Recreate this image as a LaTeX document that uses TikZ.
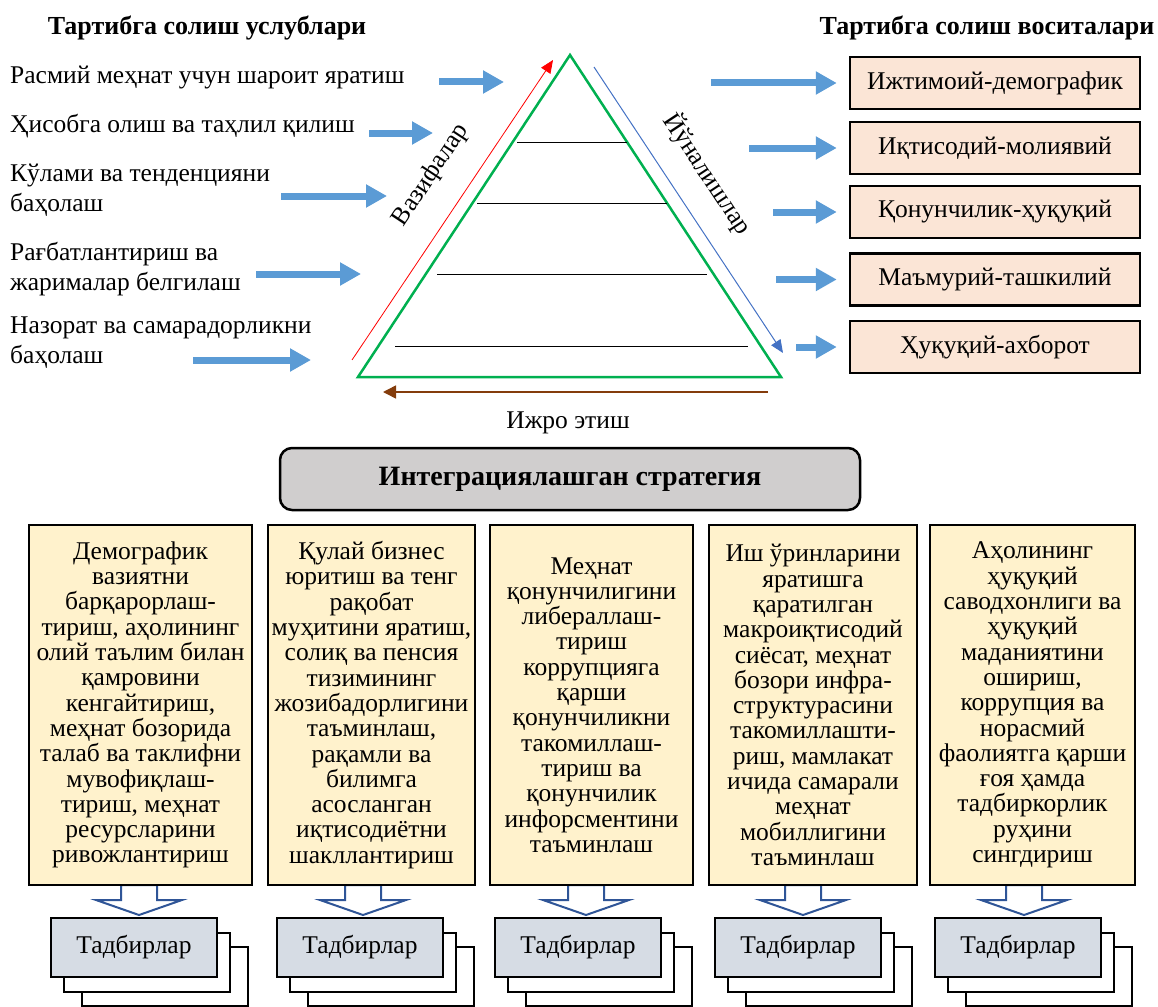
\documentclass[tikz,border=0pt]{standalone}
\usepackage{fontspec}
\setmainfont{Liberation Serif}
\usetikzlibrary{calc,arrows.meta,positioning}

\definecolor{arrblue}{HTML}{5B9BD5}
\definecolor{pyrgreen}{HTML}{00B050}
\definecolor{peach}{HTML}{FBE5D6}
\definecolor{cream}{HTML}{FFF2CC}
\definecolor{stratgray}{HTML}{D0CECE}
\definecolor{tadfill}{HTML}{D6DCE4}
\definecolor{navy}{HTML}{2F5597}
\definecolor{brownarr}{HTML}{843C0C}
\definecolor{lineblue}{HTML}{4472C4}

\begin{document}
\begin{tikzpicture}[x=1pt,y=-1pt,>=Latex,
    every node/.style={font=\fontsize{25.5}{30}\selectfont},
    heading/.style={font=\fontsize{26}{30}\selectfont\bfseries},
    method/.style={anchor=west,align=left,inner sep=0pt},
    bluearrow/.style={arrblue,line width=7pt,-{Triangle[length=21pt,width=22pt]}},
    toolbox/.style={draw,line width=2.5pt,fill=peach,minimum width=290pt,minimum height=52pt},
    stratbox/.style={draw,line width=2.5pt,fill=cream,minimum height=360pt,align=center,inner sep=2pt,
        font=\fontsize{25.5}{25.3}\selectfont},
    eventbox/.style={draw,line width=2pt,fill=tadfill,minimum width=166pt,minimum height=59pt},
    backbox/.style={draw,line width=2pt,fill=white,minimum width=166pt,minimum height=59pt},
    hollow/.style={draw=navy,line width=2pt,fill=white,line join=miter}]

    \useasboundingbox (0,0) rectangle (1158,1006);

    % titles
    \node[heading] (ttl) at (207,28) {Тартибга солиш услублари};
    \node[heading] (ttr) at (987,28) {Тартибга солиш воситалари};

    % pyramid
    \coordinate (apex) at (570,55);
    \coordinate (bl) at (358,377);
    \coordinate (br) at (781,377);
    \draw[pyrgreen,line width=2.5pt,line join=miter] (bl) -- (apex) -- (br) -- cycle;
    \foreach \y/\a/\b in {142/517/627, 203/477/667, 274/437/707, 346/395/748}
        \draw[line width=1pt] (\a,\y) -- (\b,\y);

    \coordinate (R1) at (352,360);
    \coordinate (R2) at (553,60);
    \draw[red,line width=0.8pt,-{Triangle[length=13pt,width=11pt]}] (R1) -- (R2);
    \node[rotate=56.6] (tasks) at (431,175) {Вазифалар};

    \coordinate (B1) at (594,67);
    \coordinate (B2) at (783,353);
    \draw[lineblue,line width=1pt,-{Triangle[length=13pt,width=11pt]}] (B1) -- (B2);
    \node[rotate=-56.6] (dirs) at (708,174) {Йўналишлар};

    \coordinate (E1) at (768,392);
    \coordinate (E2) at (383,392);
    \draw[brownarr,line width=1.5pt,-{Triangle[length=13pt,width=13pt]}] (E1) -- (E2);
    \node (exec) at (568,423) {Ижро этиш};

    % methods
    \node[method] (m1) at (10,78) {Расмий меҳнат учун шароит яратиш};
    \node[method] (m2) at (10,126) {Ҳисобга олиш ва таҳлил қилиш};
    \node[method] (m3) at (10,190) {Кўлами ва тенденцияни\\баҳолаш};
    \node[method] (m4) at (10,269) {Рағбатлантириш ва\\жарималар белгилаш};
    \node[method] (m5) at (10,343) {Назорат ва самарадорликни\\баҳолаш};

    \foreach \i/\a/\b/\y in {1/439/504/82, 2/369/433/133, 3/281/387/196, 4/256/361/274, 5/193/311/360}{
        \coordinate (la\i) at (\a,\y);
        \coordinate (lb\i) at (\b,\y);
        \draw[bluearrow] (la\i) -- (lb\i);
    }

    % tools
    \node[toolbox] (tb1) at (995,83) {Ижтимоий-демографик};
    \node[toolbox] (tb2) at (995,148) {Иқтисодий-молиявий};
    \node[toolbox] (tb3) at (995,212) {Қонунчилик-ҳуқуқий};
    \node[toolbox] (tb4) at (995,279.5) {Маъмурий-ташкилий};
    \node[toolbox] (tb5) at (995,347) {Ҳуқуқий-ахборот};

    \foreach \i/\a in {1/711, 2/749, 3/773, 4/776, 5/796}{
        \coordinate (ra\i) at (\a,0 |- tb\i.west);
        \draw[bluearrow,shorten >=12pt] (ra\i) -- (tb\i.west);
    }

    % strategy
    \node[draw,line width=2.5pt,fill=stratgray,rounded corners=12pt,minimum width=580pt,minimum height=62pt,
        font=\fontsize{28}{30}\selectfont\bfseries] (strat) at (570,479) {Интеграциялашган стратегия};

    % hollow arrows
    \foreach \x in {139,363,586,803,1024}
        \draw[hollow] (\x-18,885) -- (\x-18,900) -- (\x-43,900) -- (\x,915) -- (\x+43,900)
            -- (\x+18,900) -- (\x+18,885) -- cycle;

    \node[stratbox,minimum width=223pt] (s1) at (140.5,705) {Демографик\\вазиятни\\барқарорлаш-\\тириш, аҳолининг\\олий таълим билан\\қамровини\\кенгайтириш,\\меҳнат бозорида\\талаб ва таклифни\\мувофиқлаш-\\тириш, меҳнат\\ресурсларини\\ривожлантириш};
    \node[stratbox,minimum width=207pt] (s2) at (371.5,705) {Қулай бизнес\\юритиш ва тенг\\рақобат\\муҳитини яратиш,\\солиқ ва пенсия\\тизимининг\\жозибадорлигини\\таъминлаш,\\рақамли ва\\билимга\\асосланган\\иқтисодиётни\\шакллантириш};
    \node[stratbox,minimum width=203pt] (s3) at (591.5,705) {Меҳнат\\қонунчилигини\\либераллаш-\\тириш\\коррупцияга\\қарши\\қонунчиликни\\такомиллаш-\\тириш ва\\қонунчилик\\инфорсментини\\таъминлаш};
    \node[stratbox,minimum width=208pt] (s4) at (813,705) {Иш ўринларини\\яратишга\\қаратилган\\макроиқтисодий\\сиёсат, меҳнат\\бозори инфра-\\структурасини\\такомиллашти-\\риш, мамлакат\\ичида самарали\\меҳнат\\мобиллигини\\таъминлаш};
    \node[stratbox,minimum width=205pt] (s5) at (1032.5,705) {Аҳолининг\\ҳуқуқий\\саводхонлиги ва\\ҳуқуқий\\маданиятини\\ошириш,\\коррупция ва\\норасмий\\фаолиятга қарши\\ғоя ҳамда\\тадбиркорлик\\руҳини\\сингдириш};

    % events
    \foreach \i/\x in {1/134, 2/360, 3/578, 4/798, 5/1018}{
        \node[backbox] (ev\i c) at (\x+31,976.5) {};
        \node[backbox] (ev\i b) at (\x+13,962.5) {};
        \node[eventbox] (ev\i) at (\x,947.5) {Тадбирлар};
    }
\end{tikzpicture}
\end{document}
